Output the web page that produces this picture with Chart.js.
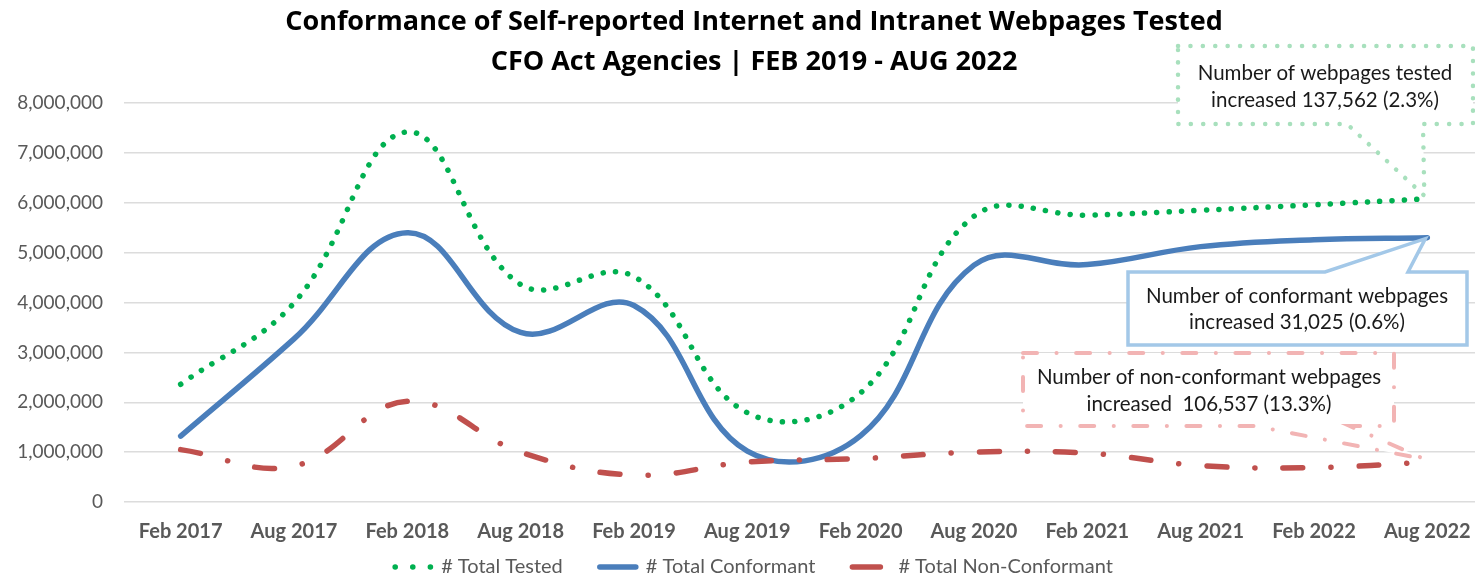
<!DOCTYPE html>
<html>
<head>
<meta charset="utf-8">
<script src="https://cdn.jsdelivr.net/npm/chart.js@4.4.1/dist/chart.umd.min.js"></script>
<style>
  html, body { margin: 0; padding: 0; overflow: hidden; background: #ffffff; width: 1475px; height: 580px; }
  #wrap { position: absolute; left: 0; top: 0; width: 1508px; height: 587px; }
  canvas { display: block; }
</style>
</head>
<body>
<div id="wrap"><canvas id="chart" width="1508" height="587" style="width:1508px;height:587px"></canvas></div>
<script>
// ---------------- data ----------------
const categories = ['Feb 2017', 'Aug 2017', 'Feb 2018', 'Aug 2018', 'Feb 2019', 'Aug 2019',
                    'Feb 2020', 'Aug 2020', 'Feb 2021', 'Aug 2021', 'Feb 2022', 'Aug 2022'];
const totalTested        = [2360000, 3990000, 7420000, 4360000, 4520000, 1790000, 2190000, 5730000, 5750000, 5850000, 5960000, 6080000];
const totalConformant    = [1320000, 3270000, 5400000, 3400000, 3940000, 1020000, 1330000, 4750000, 4760000, 5120000, 5260000, 5300000];
const totalNonConformant = [1050000,  720000, 2020000, 1000000,  540000,  800000,  870000, 1000000,  980000,  730000,  690000,  800000];
const seriesNames = ['# Total Tested', '# Total Conformant', '# Total Non-Conformant'];
const yTickMax = 8000000;
const yTickStep = 1000000;
const titleLines = ['Conformance of Self-reported Internet and Intranet Webpages Tested',
                    'CFO Act Agencies | FEB 2019 - AUG 2022'];
const testedNote = ['Number of webpages tested', 'increased 137,562 (2.3%)'];
const conformantNote = ['Number of conformant webpages', 'increased 31,025 (0.6%)'];
const nonConformantNote = ['Number of non-conformant webpages', 'increased  106,537 (13.3%)'];

// ---------------- styles ----------------
const GREEN = '#00b050', BLUE = '#4a7ebb', RED = '#c0504d';
const AXIS_GRAY = '#595959';
const FONT = 'Lato, "Open Sans", sans-serif';
const TITLE_FONT = '"Open Sans", Lato, sans-serif';
const legendDash = [[0.1, 17.5], [], [28, 200]];

// callout boxes (annotation layout, tip comes from the data)
const callouts = [
  { lines: testedNote, series: totalTested, box: {l: 1178, t: 46, r: 1473, b: 124}, wedge: 'bottom', bases: [1347, 1423],
    stroke: '#a8e0bd', width: 4.5, dash: [0.1, 12.3], cap: 'round', text: {x: 1325, y1: 73, y2: 100} },
  { lines: conformantNote, series: totalConformant, box: {l: 1128, t: 272, r: 1467, b: 345}, wedge: 'top', bases: [1325, 1408],
    stroke: '#a3c8e8', width: 3.5, dash: [], cap: 'butt', text: {x: 1297, y1: 296, y2: 322} },
  { lines: nonConformantNote, series: totalNonConformant, box: {l: 1023, t: 353, r: 1394, b: 426}, wedge: 'bottom', bases: [1255, 1350],
    stroke: '#f2b4b4', width: 4, dash: [14, 19.5, 0.1, 19.5], cap: 'round', text: {x: 1209, y1: 377, y2: 404} }
];

const calloutPlugin = {
  id: 'callouts',
  afterDatasetsDraw(chart) {
    const ctx = chart.ctx;
    const xs = chart.scales.x, ys = chart.scales.y;
    const last = categories.length - 1;
    const tipX = xs.getPixelForValue(last);
    callouts.forEach(c => {
      const tipY = ys.getPixelForValue(c.series[last]);
      const {l, t, r, b} = c.box;
      ctx.save();
      ctx.beginPath();
      if (c.wedge === 'bottom') {
        ctx.moveTo(l, t); ctx.lineTo(r, t); ctx.lineTo(r, b);
        ctx.lineTo(c.bases[1], b); ctx.lineTo(tipX - 3, tipY - 3); ctx.lineTo(c.bases[0], b);
        ctx.lineTo(l, b); ctx.closePath();
      } else {
        ctx.moveTo(l, t); ctx.lineTo(c.bases[0], t); ctx.lineTo(tipX - 2, tipY + 1); ctx.lineTo(c.bases[1], t);
        ctx.lineTo(r, t); ctx.lineTo(r, b); ctx.lineTo(l, b); ctx.closePath();
      }
      ctx.fillStyle = '#ffffff';
      ctx.fill();
      ctx.strokeStyle = c.stroke;
      ctx.lineWidth = c.width;
      ctx.lineCap = c.cap;
      ctx.lineJoin = 'miter';
      ctx.setLineDash(c.dash);
      ctx.stroke();
      ctx.setLineDash([]);
      ctx.fillStyle = '#1a1a1a';
      ctx.font = '20.5px ' + FONT;
      ctx.textAlign = 'center';
      ctx.textBaseline = 'middle';
      ctx.fillText(c.lines[0], c.text.x, c.text.y1);
      ctx.fillText(c.lines[1], c.text.x, c.text.y2);
      ctx.restore();
    });
  }
};

const noLabelClip = scale => { scale._computeLabelArea = () => undefined; };

const commonLine = { fill: false, pointRadius: 0, pointHoverRadius: 0, pointStyle: 'line', tension: 0.4 };

new Chart(document.getElementById('chart'), {
  type: 'line',
  data: {
    labels: categories,
    datasets: [
      Object.assign({}, commonLine, { label: seriesNames[0], data: totalTested, borderColor: GREEN, backgroundColor: GREEN,
        borderWidth: 5.5, borderDash: [0.1, 12.3], borderCapStyle: 'round', order: 2 }),
      Object.assign({}, commonLine, { label: seriesNames[1], data: totalConformant, borderColor: BLUE, backgroundColor: BLUE,
        borderWidth: 5.5, borderCapStyle: 'round', borderJoinStyle: 'round', order: 1 }),
      Object.assign({}, commonLine, { label: seriesNames[2], data: totalNonConformant, borderColor: RED, backgroundColor: RED,
        borderWidth: 5.5, borderDash: [20, 28, 0.1, 28], borderCapStyle: 'round', order: 0 })
    ]
  },
  options: {
    responsive: false,
    animation: false,
    devicePixelRatio: 1,
    layout: { padding: { left: 24, right: 24, top: 0, bottom: 0 } },
    plugins: {
      title: {
        display: true,
        text: titleLines,
        color: '#000000',
        font: { family: TITLE_FONT, size: 27, weight: 'bold', lineHeight: 40 / 27 },
        padding: { top: 2, bottom: 21 }
      },
      legend: {
        position: 'bottom',
        labels: {
          usePointStyle: true,
          pointStyleWidth: 36,
          padding: 37,
          color: AXIS_GRAY,
          font: { family: FONT, size: 20 },
          sort: (a, b) => a.datasetIndex - b.datasetIndex,
          generateLabels(chart) {
            const items = Chart.defaults.plugins.legend.labels.generateLabels(chart);
            items.forEach(it => {
              const ds = chart.data.datasets[it.datasetIndex];
              it.lineDash = legendDash[it.datasetIndex];
              it.lineCap = ds.borderCapStyle;
              it.lineWidth = ds.borderWidth;
              it.strokeStyle = ds.borderColor;
              it.fillStyle = ds.borderColor;
              it.pointStyle = 'line';
            });
            return items;
          }
        }
      },
      tooltip: { enabled: false }
    },
    scales: {
      x: {
        offset: true,
        grid: { display: false },
        border: { display: false },
        ticks: { color: AXIS_GRAY, font: { family: FONT, size: 20, weight: 'bold' }, padding: 10, maxRotation: 0, autoSkip: false },
        afterFit(scale) { scale.height = 18; noLabelClip(scale); }
      },
      y: {
        min: 0,
        max: yTickMax,
        grid: { color: '#dcdcdc', lineWidth: 1.5, drawTicks: false },
        border: { display: false },
        ticks: {
          stepSize: yTickStep,
          color: AXIS_GRAY,
          padding: 21,
          font: { family: FONT, size: 19 },
          callback: v => Number(v).toLocaleString('en-US')
        },
        afterFit(scale) { scale.width = 100; noLabelClip(scale); }
      }
    }
  },
  plugins: [calloutPlugin]
});
</script>
</body>
</html>
